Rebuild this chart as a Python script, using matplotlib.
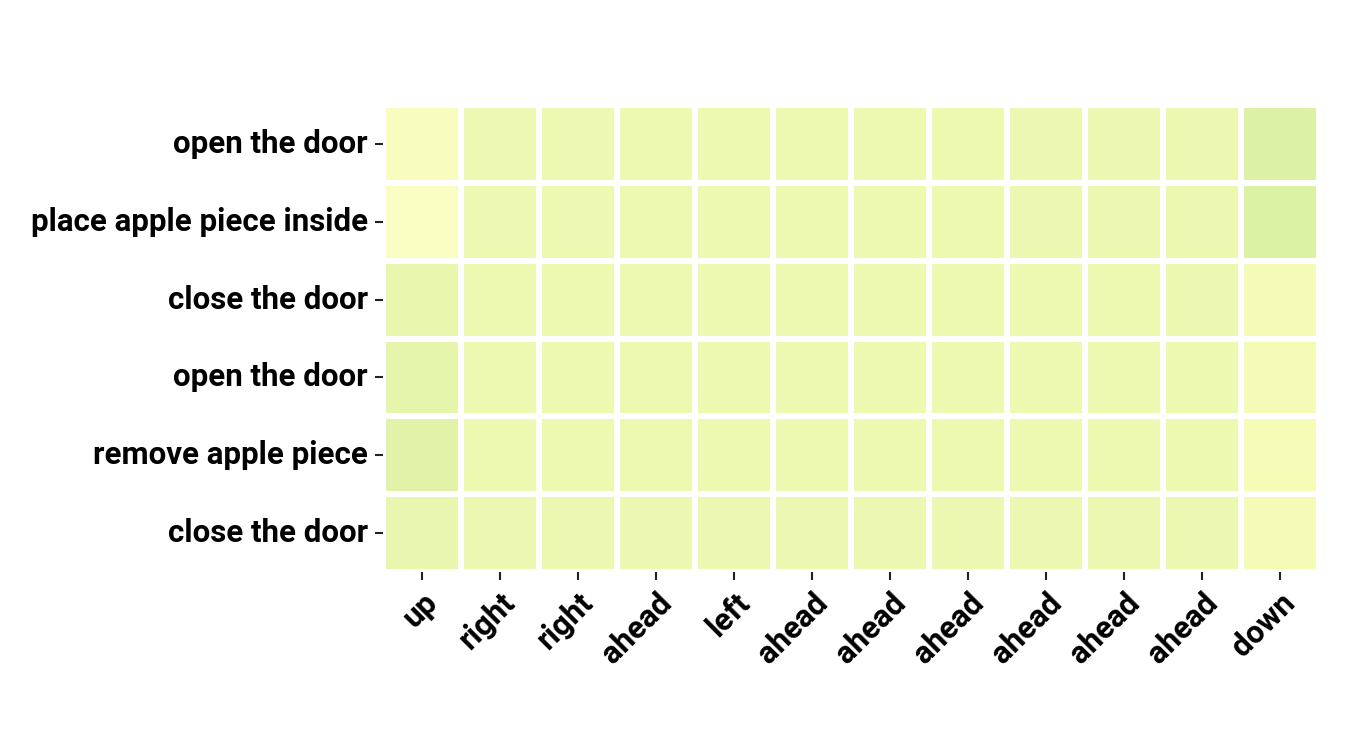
import numpy as np
import matplotlib
matplotlib.use("Agg")
import matplotlib.pyplot as plt
import seaborn as sns

# -----------------------------
# DATA
# -----------------------------
steps = ["open the door", "place apple piece inside", "close the door",
         "open the door", "remove apple piece", "close the door"]
actions = ["up", "right", "right", "ahead", "left", "ahead",
           "ahead", "ahead", "ahead", "ahead", "ahead", "down"]

weights = np.array([
    [0.11, 0.165, 0.165, 0.170, 0.170, 0.170, 0.170, 0.170, 0.175, 0.175, 0.175, 0.240],
    [0.10, 0.165, 0.165, 0.170, 0.170, 0.170, 0.170, 0.170, 0.175, 0.175, 0.175, 0.245],
    [0.19, 0.170, 0.170, 0.170, 0.170, 0.170, 0.170, 0.170, 0.170, 0.170, 0.175, 0.140],
    [0.20, 0.170, 0.170, 0.170, 0.170, 0.170, 0.170, 0.170, 0.170, 0.170, 0.170, 0.140],
    [0.22, 0.170, 0.170, 0.170, 0.170, 0.170, 0.170, 0.170, 0.170, 0.170, 0.170, 0.130],
    [0.185, 0.175, 0.175, 0.175, 0.175, 0.175, 0.175, 0.175, 0.175, 0.175, 0.175, 0.140],
])

plt.rcParams["font.family"] = ["Roboto", "DejaVu Sans"]
plt.rcParams["font.weight"] = "bold"

fig = plt.figure(figsize=(13.5, 7.5), dpi=100)
ax = fig.add_axes([0.2837, 0.2373, 0.6933, 0.6227])

sns.heatmap(weights, ax=ax, cmap="YlGn", vmin=0, vmax=1, cbar=False,
            linewidths=4.3, linecolor="white",
            xticklabels=actions, yticklabels=steps)

ax.tick_params(axis="both", length=6, width=1.5, color="#222222", labelsize=22.5, pad=5)
plt.setp(ax.get_xticklabels(), rotation=45, ha="right", rotation_mode="anchor", fontweight="bold")
plt.setp(ax.get_yticklabels(), rotation=0, fontweight="bold")

fig.savefig("out.png", dpi=100)
